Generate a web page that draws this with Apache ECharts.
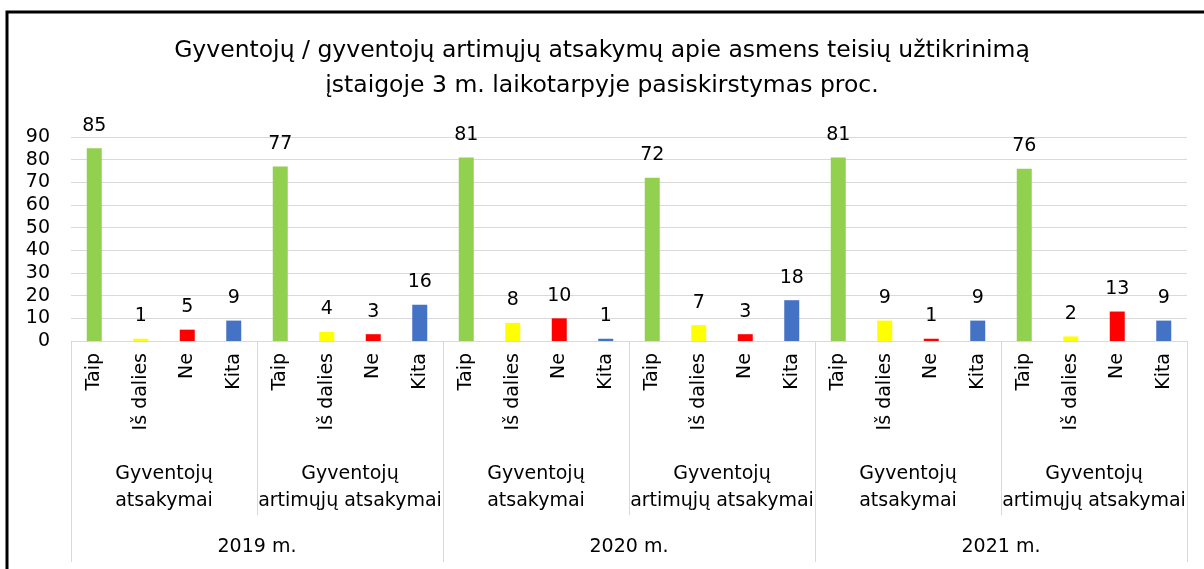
<!DOCTYPE html>
<html>
<head>
<meta charset="utf-8">
<script src="https://cdn.jsdelivr.net/npm/echarts@6/dist/echarts.min.js"></script>
<style>
  html, body { margin: 0; padding: 0; background: #fff; }
  #chart { width: 1204px; height: 569px; }
</style>
</head>
<body>
<div id="chart"></div>
<script>
// Chart data.
var responses = ['Taip', 'Iš dalies', 'Ne', 'Kita'];
var groups = ['Gyventojų\natsakymai', 'Gyventojų\nartimųjų atsakymai'];
var years = ['2019 m.', '2020 m.', '2021 m.'];
var values = [
  85, 1, 5, 9,
  77, 4, 3, 16,
  81, 8, 10, 1,
  72, 7, 3, 18,
  81, 9, 1, 9,
  76, 2, 13, 9
];
var yTicks = [0, 90, 10]; // min, max, step
var colors = ['#92D050', '#FFFF00', '#FF0000', '#4472C4'];

var font = 'DejaVu Sans';

// Build the three category levels.
var barCats = [];
var groupCats = [];
years.forEach(function (y) {
  groups.forEach(function (g) {
    groupCats.push(g);
    responses.forEach(function (r) { barCats.push(r); });
  });
});

var chart = echarts.init(document.getElementById('chart'));

chart.setOption({
  backgroundColor: '#fff',
  animation: false,
  title: {
    text: 'Gyventojų / gyventojų artimųjų atsakymų apie asmens teisių užtikrinimą\nįstaigoje 3 m. laikotarpyje pasiskirstymas proc.',
    left: 'center',
    top: 28,
    textStyle: {
      fontFamily: font,
      fontSize: 23.5,
      fontWeight: 'normal',
      color: '#000',
      lineHeight: 35
    }
  },
  grid: { left: 71, right: 17, top: 137, bottom: 228 },
  xAxis: [
    {
      type: 'category',
      data: barCats,
      axisLine: { lineStyle: { color: '#d9d9d9', width: 1 } },
      axisTick: { show: false },
      axisLabel: {
        rotate: 90,
        interval: 0,
        margin: 12,
        fontFamily: font,
        fontSize: 19,
        color: '#000'
      }
    },
    {
      type: 'category',
      data: groupCats,
      position: 'bottom',
      axisLine: { show: false },
      axisTick: { show: true, length: 174, lineStyle: { color: '#d9d9d9' } },
      axisLabel: {
        interval: 0,
        margin: 120,
        fontFamily: font,
        fontSize: 19,
        lineHeight: 27,
        color: '#000'
      }
    },
    {
      type: 'category',
      data: years,
      position: 'bottom',
      axisLine: { show: false },
      axisTick: { show: true, length: 221, lineStyle: { color: '#d9d9d9' } },
      axisLabel: {
        interval: 0,
        margin: 197,
        fontFamily: font,
        fontSize: 19,
        color: '#000'
      }
    }
  ],
  yAxis: {
    type: 'value',
    min: yTicks[0],
    max: yTicks[1],
    interval: yTicks[2],
    axisLine: { show: false },
    axisTick: { show: false },
    splitLine: { lineStyle: { color: '#d9d9d9' } },
    axisLabel: {
      margin: 21,
      fontFamily: font,
      fontSize: 19,
      color: '#000'
    }
  },
  series: [
    {
      type: 'bar',
      xAxisIndex: 0,
      barWidth: 15,
      data: values,
      itemStyle: {
        color: function (p) { return colors[p.dataIndex % 4]; }
      },
      label: {
        show: true,
        position: 'top',
        distance: 13,
        fontFamily: font,
        fontSize: 19,
        color: '#000'
      }
    }
  ],
  graphic: [
    {
      type: 'polyline',
      shape: { points: [[7, 569], [7, 12], [1204, 12]] },
      style: { stroke: '#000', lineWidth: 3, fill: null }
    }
  ]
});
</script>
</body>
</html>
